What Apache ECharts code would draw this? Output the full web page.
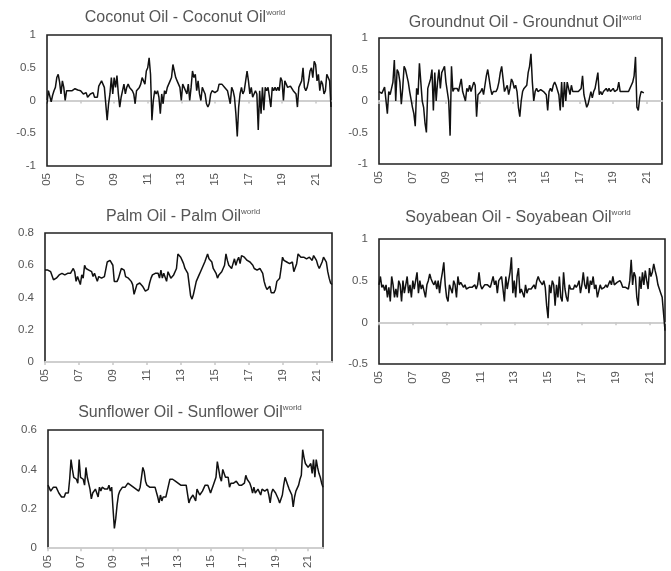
<!DOCTYPE html>
<html>
<head>
<meta charset="utf-8">
<script src="https://cdn.jsdelivr.net/npm/echarts@6/dist/echarts.min.js"></script>
<style>
html,body{margin:0;padding:0;background:#fff;}
#chart{width:671px;height:571px;}
</style>
</head>
<body>
<div id="chart"></div>
<script>
// Monthly categories 2005-01 .. 2021-12
const months = [];
for (let y = 2005; y <= 2021; y++) for (let m = 1; m <= 12; m++) months.push(y + '-' + (m < 10 ? '0' + m : m));

const panelTitles = ['Coconut Oil - Coconut Oil', 'Groundnut Oil - Groundnut Oil', 'Palm Oil - Palm Oil', 'Soyabean Oil - Soyabean Oil', 'Sunflower Oil - Sunflower Oil'];
const superscript = 'world';

const coconut = [
-0.05,0.15,0.12,-0.02,0.08,0.15,0.2,0.35,0.4,0.28,0.1,0.3,
0.2,0.0,0.15,0.12,0.15,0.14,0.15,0.16,0.18,0.18,0.16,0.15,
0.15,0.12,0.1,0.08,0.12,0.05,0.02,0.1,0.08,0.12,0.05,0.08,
0.05,0.22,0.25,0.3,0.25,0.2,0.18,-0.3,-0.05,0.1,0.35,0.1,
0.35,0.2,0.38,0.1,-0.1,0.05,0.15,0.25,0.1,0.2,0.25,0.2,
0.2,0.15,0.1,-0.05,0.15,0.15,0.2,0.25,0.35,0.3,0.25,0.45,
0.5,0.65,0.4,-0.3,0.0,0.15,0.1,0.15,0.05,-0.2,0.1,-0.05,
0.15,0.1,0.2,0.2,0.3,0.35,0.55,0.45,0.35,0.3,0.25,0.2,
0.0,0.25,0.2,0.2,0.1,0.25,0.0,0.2,0.45,0.35,0.4,0.15,
0.3,0.1,0.0,0.2,0.15,0.1,-0.05,-0.1,-0.05,0.1,0.15,0.15,
0.12,0.15,0.15,0.25,0.27,0.25,0.22,0.2,0.18,0.15,0.12,-0.05,
0.2,0.15,0.05,-0.2,-0.55,-0.1,0.1,0.2,0.1,0.15,0.3,0.45,
0.3,0.1,0.2,0.05,0.1,0.15,0.1,-0.45,0.15,-0.2,0.2,-0.15,
0.2,0.15,0.2,0.05,-0.1,0.2,0.15,0.2,0.15,0.2,0.15,0.35,
0.3,0.0,0.3,0.25,0.2,0.2,0.22,0.2,0.15,0.15,0.1,-0.1,
0.2,0.25,0.3,0.5,0.2,0.15,0.2,0.3,0.45,0.5,0.35,0.6,
0.55,0.3,0.4,0.15,0.3,0.25,0.1,0.15,0.4,0.35,0.3,-0.1];

const groundnut = [
0.15,0.12,0.12,0.15,0.22,0.2,-0.2,0.15,0.1,0.1,0.3,0.65,
0.0,0.5,0.45,0.3,-0.05,0.2,0.55,0.5,0.4,0.3,0.15,0.12,
-0.1,-0.2,-0.4,0.2,0.1,0.6,0.3,0.0,-0.1,-0.35,-0.5,0.2,
0.2,0.35,0.5,-0.15,0.45,0.0,0.3,0.5,0.2,0.45,0.5,0.55,
0.3,0.3,0.0,-0.55,0.55,0.15,0.2,0.2,0.2,0.15,0.25,0.35,
0.15,0.15,0.0,0.2,0.15,0.25,0.15,0.15,0.3,0.25,-0.25,0.1,
0.1,0.15,0.2,0.1,0.25,0.4,0.5,0.35,0.2,0.1,0.15,0.15,
0.15,0.2,0.3,0.45,0.55,0.35,0.15,0.15,0.25,0.1,0.2,0.35,
0.3,0.2,0.25,0.15,-0.1,-0.25,0.0,0.15,0.2,0.2,0.25,0.45,
0.55,0.75,0.3,0.0,0.15,0.2,0.15,0.18,0.18,0.15,0.15,0.12,
0.1,-0.15,0.15,0.2,0.15,0.25,0.3,0.25,0.25,0.1,-0.15,0.3,
-0.1,0.3,0.0,0.3,0.2,0.1,0.25,0.15,0.15,0.15,0.15,0.15,
0.15,0.2,0.4,0.1,0.0,-0.1,-0.05,-0.05,0.15,0.05,0.15,0.2,
0.2,0.45,0.1,0.15,0.1,0.15,0.15,0.2,0.15,0.2,0.15,0.15,
0.2,0.15,0.18,0.18,0.3,0.15,0.15,0.15,0.15,0.15,0.15,0.15,
0.2,0.25,0.3,0.4,0.7,-0.1,-0.15,0.05,0.15,0.15,0.13];

const palm = [
0.57,0.57,0.57,0.57,0.56,0.55,0.51,0.52,0.52,0.53,0.54,0.55,
0.55,0.55,0.54,0.54,0.55,0.55,0.55,0.54,0.58,0.56,0.5,0.53,
0.53,0.48,0.54,0.52,0.6,0.58,0.57,0.57,0.56,0.56,0.53,0.55,
0.55,0.5,0.53,0.52,0.52,0.53,0.53,0.52,0.62,0.63,0.63,0.62,
0.6,0.5,0.5,0.5,0.52,0.55,0.58,0.59,0.57,0.53,0.52,0.52,
0.53,0.5,0.48,0.42,0.45,0.48,0.49,0.49,0.48,0.47,0.46,0.44,
0.44,0.45,0.49,0.52,0.54,0.55,0.55,0.55,0.55,0.52,0.57,0.52,
0.55,0.56,0.5,0.56,0.57,0.52,0.52,0.54,0.55,0.58,0.67,0.66,
0.65,0.63,0.61,0.58,0.57,0.55,0.48,0.41,0.39,0.42,0.46,0.5,
0.52,0.54,0.56,0.58,0.6,0.62,0.63,0.67,0.64,0.63,0.62,0.58,
0.57,0.55,0.52,0.54,0.55,0.56,0.57,0.6,0.67,0.63,0.6,0.59,
0.58,0.61,0.64,0.6,0.63,0.65,0.61,0.66,0.66,0.65,0.64,0.63,
0.62,0.62,0.61,0.6,0.58,0.57,0.57,0.57,0.58,0.59,0.55,0.5,
0.47,0.45,0.44,0.47,0.43,0.43,0.43,0.45,0.5,0.51,0.52,0.58,
0.65,0.63,0.62,0.62,0.62,0.61,0.61,0.62,0.56,0.55,0.61,0.67,
0.66,0.65,0.65,0.65,0.65,0.64,0.64,0.65,0.65,0.63,0.66,0.67,
0.63,0.6,0.58,0.6,0.62,0.65,0.64,0.62,0.56,0.52,0.49,0.48];

const soyabean = [
0.45,0.55,0.42,0.45,0.38,0.45,0.3,0.42,0.25,0.55,0.45,0.3,
0.4,0.3,0.5,0.45,0.25,0.5,0.35,0.45,0.55,0.35,0.45,0.3,
0.5,0.4,0.5,0.6,0.35,0.5,0.4,0.45,0.45,0.3,0.45,0.5,
0.58,0.52,0.48,0.45,0.5,0.4,0.5,0.35,0.5,0.6,0.72,0.45,
0.3,0.25,0.45,0.4,0.35,0.5,0.45,0.3,0.55,0.45,0.48,0.45,
0.42,0.45,0.4,0.4,0.42,0.4,0.42,0.42,0.45,0.4,0.45,0.6,
0.45,0.4,0.4,0.45,0.43,0.45,0.45,0.42,0.4,0.55,0.45,0.5,
0.35,0.5,0.5,0.55,0.4,0.25,0.55,0.4,0.5,0.6,0.78,0.35,
0.5,0.3,0.55,0.65,0.35,0.4,0.38,0.3,0.45,0.35,0.4,0.38,
0.4,0.42,0.45,0.4,0.5,0.55,0.5,0.48,0.45,0.5,0.42,0.2,
0.05,0.45,0.35,0.5,0.45,0.2,0.45,0.3,0.55,0.3,0.25,0.6,
0.4,0.3,0.25,0.45,0.4,0.42,0.4,0.45,0.42,0.45,0.5,0.35,
0.45,0.6,0.45,0.4,0.55,0.35,0.5,0.45,0.55,0.4,0.45,0.3,
0.3,0.45,0.4,0.4,0.42,0.45,0.42,0.4,0.5,0.45,0.55,0.45,
0.45,0.48,0.5,0.5,0.47,0.42,0.4,0.42,0.4,0.4,0.5,0.75,
0.45,0.6,0.55,0.3,0.2,0.55,0.4,0.6,0.45,0.62,0.5,0.4,
0.65,0.55,0.6,0.7,0.62,0.55,0.45,0.4,0.35,0.3,0.1,-0.1];

const sunflower = [
0.32,0.31,0.29,0.3,0.31,0.31,0.31,0.3,0.28,0.27,0.26,0.25,
0.26,0.28,0.29,0.28,0.35,0.45,0.4,0.36,0.37,0.35,0.33,0.45,
0.36,0.36,0.35,0.32,0.41,0.36,0.33,0.3,0.25,0.28,0.28,0.3,
0.3,0.26,0.31,0.29,0.31,0.3,0.3,0.29,0.3,0.32,0.29,0.31,
0.2,0.1,0.15,0.22,0.27,0.29,0.3,0.31,0.31,0.31,0.31,0.33,
0.32,0.32,0.32,0.31,0.3,0.3,0.3,0.29,0.31,0.36,0.41,0.39,
0.34,0.32,0.31,0.31,0.31,0.31,0.31,0.31,0.31,0.26,0.23,0.27,
0.24,0.26,0.27,0.26,0.29,0.32,0.35,0.36,0.35,0.34,0.34,0.33,
0.33,0.32,0.32,0.32,0.32,0.32,0.32,0.33,0.23,0.25,0.25,0.27,
0.26,0.24,0.3,0.29,0.27,0.28,0.29,0.3,0.32,0.33,0.32,0.3,
0.28,0.3,0.32,0.33,0.36,0.44,0.4,0.36,0.34,0.4,0.39,0.36,
0.35,0.36,0.31,0.33,0.34,0.33,0.32,0.34,0.33,0.32,0.32,0.32,
0.31,0.33,0.37,0.35,0.34,0.33,0.31,0.28,0.31,0.28,0.29,0.3,
0.3,0.27,0.3,0.3,0.29,0.28,0.3,0.27,0.23,0.28,0.3,0.3,
0.28,0.27,0.25,0.23,0.24,0.27,0.32,0.36,0.35,0.32,0.3,0.29,
0.27,0.21,0.26,0.29,0.3,0.32,0.35,0.37,0.5,0.46,0.43,0.42,
0.41,0.4,0.43,0.38,0.45,0.36,0.45,0.41,0.38,0.36,0.33,0.31];

const seriesData = [coconut, groundnut, palm, soyabean, sunflower];
const yMin = [-1, -1, 0, -0.5, 0];
const yMax = [1, 1, 0.8, 1, 0.6];
const yInterval = [0.5, 0.5, 0.2, 0.5, 0.2];

// layout (pixels)
const grids = [
  {left: 47, top: 35, width: 284, height: 131},
  {left: 379, top: 38, width: 283, height: 126},
  {left: 45, top: 233, width: 287, height: 129},
  {left: 379, top: 239, width: 286, height: 125},
  {left: 48, top: 430, width: 275, height: 123}
];
const titlePos = [[185, 9], [525, 14], [183, 208], [518, 209], [190, 404]];

const FONT = '"Liberation Sans", Arial, sans-serif';
const GREY = '#555';
const every24 = function (idx) { return idx % 24 === 0; };

const option = {
  animation: false,
  backgroundColor: '#fff',
  title: [], grid: [], xAxis: [], yAxis: [], series: []
};

for (let i = 0; i < 5; i++) {
  option.title.push({
    text: '{m|' + panelTitles[i] + '}{s|' + superscript + '}',
    left: titlePos[i][0], top: titlePos[i][1], padding: 0,
    textAlign: 'center',
    textStyle: {
      fontWeight: 'normal',
      rich: {
        m: {fontSize: 16, fontWeight: 'normal', color: GREY, fontFamily: FONT, lineHeight: 18},
        s: {fontSize: 8, fontWeight: 'normal', color: GREY, fontFamily: FONT, verticalAlign: 'top', lineHeight: 10}
      }
    }
  });
  option.grid.push(Object.assign({show: true, borderColor: '#222', borderWidth: 1.6, containLabel: false}, grids[i]));
  // labelled axis at the bottom
  option.xAxis.push({
    type: 'category', gridIndex: i, data: months, boundaryGap: false, position: 'bottom',
    axisLine: {show: false, onZero: false}, axisTick: {show: false}, splitLine: {show: false},
    axisLabel: {
      interval: every24, rotate: 90, margin: 7, color: GREY, fontSize: 11.5, fontFamily: FONT,
      formatter: function (v) { return v.slice(2, 4); }
    }
  });
  // zero line axis
  option.xAxis.push({
    type: 'category', gridIndex: i, data: months, boundaryGap: false, position: 'bottom',
    axisLine: {show: true, onZero: true, lineStyle: {color: '#cfcfcf', width: 2}},
    axisTick: {show: true, interval: every24, length: 3, lineStyle: {color: '#c8c8c8', width: 1.5}},
    axisLabel: {show: false}, splitLine: {show: false}
  });
  option.yAxis.push({
    type: 'value', gridIndex: i, min: yMin[i], max: yMax[i], interval: yInterval[i],
    axisLine: {show: false}, axisTick: {show: false}, splitLine: {show: false},
    axisLabel: {color: GREY, fontSize: 11.5, fontFamily: FONT, margin: 11}
  });
  option.series.push({
    type: 'line', xAxisIndex: 2 * i, yAxisIndex: i, data: seriesData[i],
    showSymbol: false, symbol: 'none', z: 5,
    lineStyle: {color: '#111', width: 1.5}
  });
}

const chart = echarts.init(document.getElementById('chart'), null, {renderer: 'canvas'});
chart.setOption(option);
</script>
</body>
</html>
